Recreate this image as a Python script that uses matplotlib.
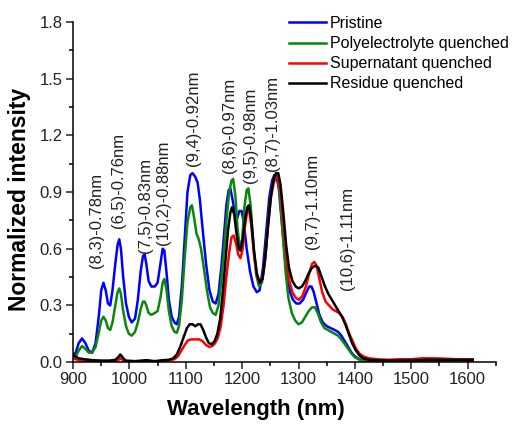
import numpy as np
import matplotlib
matplotlib.use("Agg")
import matplotlib.pyplot as plt
from matplotlib.ticker import MultipleLocator

plt.rcParams['font.family'] = ['Liberation Sans', 'DejaVu Sans']

# Pristine
wl_pristine = [900, 905, 910, 916, 922, 928, 934, 940, 946, 950, 954, 958, 962, 966, 970, 975, 979, 982,
               985, 989, 994, 999, 1004, 1010, 1015, 1020, 1024, 1027, 1030, 1034, 1039, 1045, 1050, 1055,
               1059, 1062, 1066, 1070, 1075, 1080, 1084, 1088, 1093, 1098, 1103, 1108, 1112, 1117, 1121,
               1125, 1130, 1136, 1142, 1148, 1153, 1158, 1163, 1168, 1172, 1176, 1179, 1183, 1187, 1191,
               1195, 1199, 1203, 1208, 1214, 1220, 1226, 1231, 1237, 1243, 1248, 1253, 1257, 1261, 1265,
               1270, 1275, 1280, 1285, 1290, 1296, 1302, 1308, 1314, 1319, 1323, 1327, 1332, 1337, 1343,
               1350, 1357, 1364, 1370, 1376, 1382, 1388, 1394, 1400, 1408, 1420, 1450, 1500, 1550, 1609]
int_pristine = [0.04, 0.05, 0.10, 0.125, 0.10, 0.06, 0.05, 0.10, 0.25, 0.38, 0.42, 0.38, 0.31, 0.30, 0.38,
                0.52, 0.62, 0.65, 0.60, 0.45, 0.31, 0.24, 0.21, 0.23, 0.33, 0.48, 0.56, 0.57, 0.52, 0.43,
                0.40, 0.40, 0.42, 0.52, 0.60, 0.59, 0.47, 0.33, 0.24, 0.21, 0.20, 0.24, 0.40, 0.65, 0.90,
                0.99, 1.00, 0.98, 0.95, 0.86, 0.70, 0.52, 0.38, 0.32, 0.31, 0.36, 0.50, 0.68, 0.83, 0.91,
                0.92, 0.86, 0.79, 0.76, 0.80, 0.80, 0.74, 0.60, 0.48, 0.40, 0.37, 0.38, 0.50, 0.70, 0.87,
                0.96, 0.99, 0.98, 0.92, 0.75, 0.58, 0.45, 0.37, 0.33, 0.31, 0.31, 0.33, 0.37, 0.40, 0.40,
                0.37, 0.31, 0.25, 0.21, 0.19, 0.18, 0.17, 0.16, 0.14, 0.11, 0.08, 0.05, 0.03, 0.015, 0.008,
                0.005, 0.005, 0.005, 0.005]

# Polyelectrolyte quenched
wl_poly = [900, 905, 910, 916, 922, 928, 934, 940, 946, 950, 954, 958, 962, 966, 970, 975, 979, 982, 985,
           989, 994, 999, 1004, 1010, 1015, 1020, 1024, 1027, 1030, 1034, 1039, 1045, 1050, 1055, 1059, 1062,
           1066, 1070, 1075, 1080, 1084, 1088, 1093, 1098, 1103, 1108, 1111, 1115, 1119, 1123, 1127, 1132,
           1138, 1143, 1148, 1153, 1158, 1163, 1168, 1173, 1177, 1181, 1184, 1188, 1192, 1196, 1200, 1204,
           1208, 1211, 1215, 1220, 1225, 1230, 1235, 1240, 1245, 1250, 1255, 1259, 1263, 1267, 1272, 1277,
           1282, 1288, 1294, 1300, 1306, 1312, 1318, 1324, 1329, 1334, 1340, 1346, 1352, 1358, 1364, 1370,
           1376, 1382, 1388, 1394, 1400, 1408, 1420, 1450, 1500, 1550, 1609]
int_poly = [0.03, 0.03, 0.06, 0.085, 0.07, 0.05, 0.05, 0.08, 0.16, 0.22, 0.24, 0.22, 0.18, 0.17, 0.21, 0.30,
            0.37, 0.39, 0.36, 0.27, 0.19, 0.15, 0.14, 0.16, 0.21, 0.28, 0.32, 0.32, 0.30, 0.26, 0.25, 0.26,
            0.27, 0.34, 0.42, 0.44, 0.38, 0.27, 0.19, 0.16, 0.155, 0.19, 0.33, 0.55, 0.74, 0.82, 0.83, 0.76,
            0.68, 0.65, 0.60, 0.50, 0.37, 0.29, 0.26, 0.25, 0.30, 0.43, 0.60, 0.78, 0.90, 0.96, 0.97, 0.88,
            0.70, 0.60, 0.65, 0.82, 0.91, 0.92, 0.83, 0.62, 0.46, 0.40, 0.42, 0.52, 0.70, 0.87, 0.96, 0.99,
            0.98, 0.88, 0.68, 0.48, 0.34, 0.26, 0.22, 0.20, 0.21, 0.24, 0.27, 0.29, 0.29, 0.26, 0.21, 0.18,
            0.17, 0.16, 0.15, 0.14, 0.12, 0.095, 0.07, 0.045, 0.025, 0.012, 0.006, 0.004, 0.004, 0.004, 0.004]

# Supernatant quenched
wl_super = [900, 905, 912, 925, 950, 970, 980, 984, 988, 995, 1020, 1030, 1040, 1060, 1070, 1080, 1086, 1092,
            1098, 1104, 1110, 1117, 1124, 1130, 1136, 1142, 1147, 1152, 1157, 1162, 1167, 1172, 1177, 1181,
            1185, 1189, 1193, 1197, 1201, 1205, 1209, 1212, 1216, 1221, 1226, 1231, 1236, 1241, 1246, 1251,
            1256, 1260, 1264, 1268, 1273, 1278, 1283, 1289, 1295, 1301, 1307, 1313, 1319, 1324, 1328, 1332,
            1337, 1342, 1348, 1354, 1360, 1366, 1372, 1378, 1384, 1390, 1396, 1402, 1408, 1415, 1425, 1440,
            1460, 1480, 1500, 1520, 1540, 1560, 1580, 1609]
int_super = [0.02, 0.015, 0.01, 0.005, 0.003, 0.004, 0.01, 0.02, 0.01, 0.004, 0.004, 0.008, 0.004, 0.006,
             0.01, 0.015, 0.03, 0.06, 0.09, 0.115, 0.12, 0.12, 0.12, 0.11, 0.09, 0.08, 0.085, 0.10, 0.13,
             0.19, 0.30, 0.45, 0.58, 0.66, 0.67, 0.63, 0.57, 0.55, 0.60, 0.72, 0.80, 0.81, 0.73, 0.57, 0.46,
             0.42, 0.44, 0.55, 0.72, 0.87, 0.95, 0.98, 0.97, 0.90, 0.74, 0.57, 0.44, 0.37, 0.34, 0.33, 0.35,
             0.40, 0.47, 0.52, 0.53, 0.51, 0.44, 0.37, 0.32, 0.30, 0.28, 0.27, 0.26, 0.24, 0.20, 0.15, 0.11,
             0.07, 0.045, 0.03, 0.02, 0.015, 0.012, 0.015, 0.015, 0.02, 0.02, 0.018, 0.015, 0.015]

# Residue quenched
wl_residue = [900, 904, 910, 920, 935, 950, 965, 975, 980, 984, 988, 993, 1010, 1030, 1045, 1060, 1070, 1078,
              1084, 1090, 1096, 1102, 1107, 1112, 1117, 1122, 1126, 1131, 1136, 1141, 1146, 1151, 1156, 1161,
              1166, 1171, 1175, 1179, 1182, 1186, 1190, 1194, 1197, 1201, 1205, 1209, 1212, 1216, 1221, 1226,
              1231, 1236, 1241, 1246, 1251, 1256, 1260, 1264, 1268, 1273, 1278, 1283, 1289, 1295, 1300, 1306,
              1312, 1318, 1324, 1330, 1335, 1341, 1347, 1353, 1359, 1365, 1371, 1377, 1383, 1389, 1395, 1401,
              1408, 1415, 1425, 1440, 1470, 1500, 1530, 1560, 1590, 1609]
int_residue = [0.04, 0.03, 0.02, 0.015, 0.01, 0.008, 0.008, 0.012, 0.025, 0.04, 0.025, 0.008, 0.005, 0.01,
               0.005, 0.01, 0.012, 0.02, 0.04, 0.08, 0.13, 0.18, 0.20, 0.20, 0.19, 0.20, 0.20, 0.17, 0.13,
               0.10, 0.095, 0.11, 0.15, 0.23, 0.38, 0.56, 0.70, 0.79, 0.82, 0.78, 0.68, 0.60, 0.59, 0.65,
               0.75, 0.82, 0.83, 0.76, 0.59, 0.47, 0.42, 0.44, 0.56, 0.73, 0.88, 0.97, 1.00, 1.00, 0.94,
               0.79, 0.62, 0.50, 0.43, 0.40, 0.39, 0.40, 0.43, 0.47, 0.50, 0.51, 0.50, 0.45, 0.40, 0.36,
               0.33, 0.30, 0.27, 0.24, 0.20, 0.15, 0.10, 0.065, 0.035, 0.02, 0.012, 0.01, 0.008, 0.01,
               0.012, 0.012, 0.012, 0.012]

# chirality labels: (text, wavelength, intensity where the label starts)
peak_labels = ["(8,3)-0.78nm", "(6,5)-0.76nm", "(7,5)-0.83nm", "(10,2)-0.88nm", "(9,4)-0.92nm",
               "(8,6)-0.97nm", "(9,5)-0.98nm", "(8,7)-1.03nm", "(9,7)-1.10nm", "(10,6)-1.11nm"]
label_wl = [942, 980, 1028, 1060, 1113, 1178, 1214, 1254, 1325, 1386]
label_y = [0.50, 0.71, 0.58, 0.62, 1.04, 1.00, 0.95, 1.01, 0.60, 0.38]

fig = plt.figure(figsize=(5.16, 4.29), dpi=100)
ax = fig.add_axes([0.1415, 0.156, 0.8195, 0.7925])

lw = 1.8
ax.plot(wl_pristine, int_pristine, color='#0000ff', lw=lw, label='Pristine')
ax.plot(wl_poly, int_poly, color='#0a870a', lw=lw, label='Polyelectrolyte quenched')
ax.plot(wl_super, int_super, color='#ff0000', lw=lw, label='Supernatant quenched')
ax.plot(wl_residue, int_residue, color='black', lw=lw, label='Residue quenched')

for txt, x, y in zip(peak_labels, label_wl, label_y):
    ax.text(x, y, txt, rotation=90, ha='center', va='bottom', fontsize=12, color='#222222')

ax.set_xlim(900, 1650)
ax.set_ylim(0, 1.8)
ax.xaxis.set_major_locator(MultipleLocator(100))
ax.xaxis.set_minor_locator(MultipleLocator(50))
ax.yaxis.set_major_locator(MultipleLocator(0.3))
ax.yaxis.set_minor_locator(MultipleLocator(0.15))
ax.set_xticks(np.arange(900, 1601, 100))
ax.yaxis.set_major_formatter(matplotlib.ticker.FormatStrFormatter('%.1f'))

for side in ['top', 'right']:
    ax.spines[side].set_visible(False)
for side in ['left', 'bottom']:
    ax.spines[side].set_linewidth(1.1)
ax.tick_params(which='major', direction='out', length=5, width=1.1, labelsize=12, pad=2.5,
               colors='#222222')
ax.tick_params(which='minor', direction='out', length=3, width=1.1)

ax.set_xlabel('Wavelength (nm)', fontsize=16, fontweight='bold')
ax.set_ylabel('Normalized intensity', fontsize=16.5, fontweight='bold')
ax.xaxis.set_label_coords(0.433, -0.11)
ax.yaxis.set_label_coords(-0.10, 0.479)

fig.legend(loc='upper left', bbox_to_anchor=(289 / 516, 1 - 16 / 429), frameon=False, fontsize=11.5,
           borderpad=0, borderaxespad=0, labelspacing=0.32, handlelength=2.3, handletextpad=0.25)

fig.savefig('out.png', dpi=100)
